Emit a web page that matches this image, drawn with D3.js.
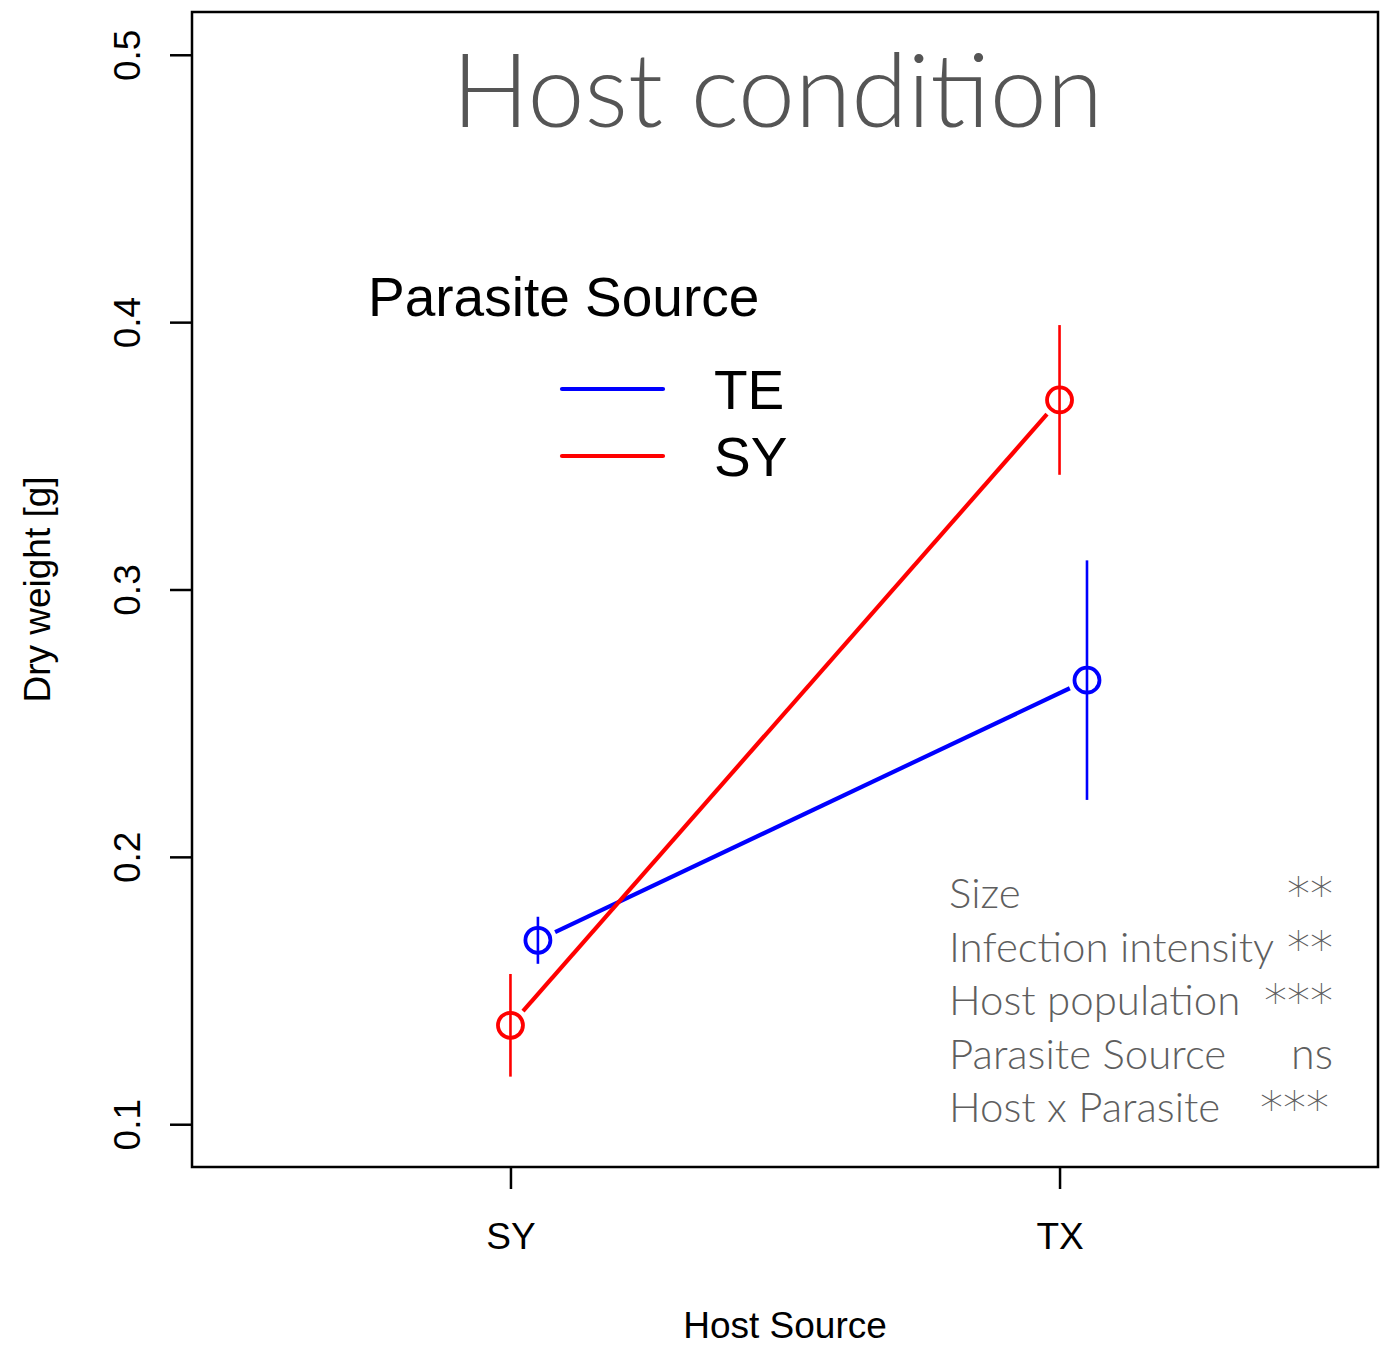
<!DOCTYPE html>
<html>
<head>
<meta charset="utf-8">
<script src="https://cdn.jsdelivr.net/npm/d3@7"></script>
<style>
  html, body { margin: 0; padding: 0; background: #fff; }
  svg { display: block; }
</style>
</head>
<body>
<svg id="chart" width="1380" height="1352"></svg>
<script>
// Host source categories on the x axis
const hostSources = ["SY", "TX"];
// Parasite source groups (legend order)
const parasiteSources = ["TE", "SY"];
const seriesColors = ["#0000FF", "#FF0000"];
// Mean dry weight [g] per host source, one array per parasite source
const meanTE = [0.1688, 0.2661];
const meanSY = [0.1370, 0.3709];
// Standard errors
const seTE = [0.0088, 0.0448];
const seSY = [0.0192, 0.0280];
// Y axis ticks
const yTicks = [0.1, 0.2, 0.3, 0.4, 0.5];
// Model terms and their significance
const terms = ["Size", "Infection intensity", "Host population", "Parasite Source", "Host x Parasite"];
const signif = ["**", "**", "***", "ns", "***"];

const svg = d3.select("#chart");
const plot = { left: 192, right: 1378, top: 12, bottom: 1167 };

// R-style 4% axis extension around the nominal limits
const xlim = [0.5, 2.5], ylim = [0.1, 0.5];
const ext = (l) => { const d = (l[1] - l[0]) * 0.04; return [l[0] - d, l[1] + d]; };
const x = d3.scaleLinear().domain(ext(xlim)).range([plot.left, plot.right]);
const y = d3.scaleLinear().domain(ext(ylim)).range([plot.bottom, plot.top]);

const dodge = [0.05, 0]; // horizontal offset per parasite source
const series = [
  { name: parasiteSources[0], color: seriesColors[0], mean: meanTE, se: seTE, dx: dodge[0] },
  { name: parasiteSources[1], color: seriesColors[1], mean: meanSY, se: seSY, dx: dodge[1] }
];

const fontSans = "'Liberation Sans', Arial, sans-serif";
const fontLight = "Lato, 'Open Sans', sans-serif";

// Y axis
const yAxis = svg.append("g").attr("transform", `translate(${plot.left},0)`)
  .call(d3.axisLeft(y).tickValues(yTicks).tickSize(22).tickPadding(0).tickFormat(d3.format(".1f")));
yAxis.select(".domain").remove();
yAxis.selectAll(".tick line").attr("stroke", "#000").attr("stroke-width", 2.5);
yAxis.selectAll(".tick text")
  .attr("transform", "rotate(-90)")
  .attr("x", 0).attr("y", -65)
  .attr("text-anchor", "middle")
  .attr("dy", "0.36em")
  .style("font-family", fontSans).style("font-size", "37px").attr("fill", "#000");

// X axis
const xAxis = svg.append("g").attr("transform", `translate(0,${plot.bottom})`)
  .call(d3.axisBottom(x).tickValues([1, 2]).tickSize(22).tickPadding(0)
    .tickFormat((d) => hostSources[d - 1]));
xAxis.select(".domain").remove();
xAxis.selectAll(".tick line").attr("stroke", "#000").attr("stroke-width", 2.5);
xAxis.selectAll(".tick text")
  .attr("y", 69).attr("dy", "0.36em")
  .style("font-family", fontSans).style("font-size", "37px").attr("fill", "#000");

// Axis titles
svg.append("text")
  .attr("transform", `translate(50,${(plot.top + plot.bottom) / 2}) rotate(-90)`)
  .attr("text-anchor", "middle")
  .style("font-family", fontSans).style("font-size", "37px")
  .text("Dry weight [g]");
svg.append("text")
  .attr("x", (plot.left + plot.right) / 2).attr("y", 1338)
  .attr("text-anchor", "middle")
  .style("font-family", fontSans).style("font-size", "37px")
  .text("Host Source");

// Series: connecting lines with gaps at the points, error bars, open circles
const gap = 19, r = 12.5;
const g = svg.append("g");
series.forEach((s) => {
  const pts = s.mean.map((m, i) => ({ px: x(i + 1 + s.dx), py: y(m), m, se: s.se[i] }));
  for (let i = 0; i < pts.length - 1; i++) {
    const a = pts[i], b = pts[i + 1];
    const dx = b.px - a.px, dy = b.py - a.py, len = Math.hypot(dx, dy);
    const ux = dx / len, uy = dy / len;
    g.append("line")
      .attr("x1", a.px + ux * gap).attr("y1", a.py + uy * gap)
      .attr("x2", b.px - ux * gap).attr("y2", b.py - uy * gap)
      .attr("stroke", s.color).attr("stroke-width", 4.2);
  }
  pts.forEach((p) => {
    g.append("line")
      .attr("x1", p.px).attr("x2", p.px)
      .attr("y1", y(p.m - p.se)).attr("y2", y(p.m + p.se))
      .attr("stroke", s.color).attr("stroke-width", 2.6);
    g.append("circle")
      .attr("cx", p.px).attr("cy", p.py).attr("r", r)
      .attr("fill", "none").attr("stroke", s.color).attr("stroke-width", 3.8);
  });
});

// Plot frame
svg.append("rect")
  .attr("x", plot.left).attr("y", plot.top)
  .attr("width", plot.right - plot.left).attr("height", plot.bottom - plot.top)
  .attr("fill", "none").attr("stroke", "#000").attr("stroke-width", 2.5);

// Title
const title = svg.append("text")
  .attr("x", 452).attr("y", 127)
  .style("font-family", fontLight).style("font-weight", 300)
  .style("font-size", "108px").attr("fill", "#555555")
  .text("Host condition");
const tw = title.node().getComputedTextLength();
title.style("font-size", (108 * 651 / tw) + "px");

// Legend
const legend = svg.append("g");
legend.append("text")
  .attr("x", 368).attr("y", 316)
  .style("font-family", fontSans).style("font-size", "55px")
  .text("Parasite Source");
series.forEach((s, i) => {
  const ly = 389 + i * 67;
  legend.append("line")
    .attr("x1", 562).attr("x2", 663).attr("y1", ly).attr("y2", ly)
    .attr("stroke", s.color).attr("stroke-width", 4.2).attr("stroke-linecap", "round");
  legend.append("text")
    .attr("x", 714).attr("y", ly).attr("dy", "0.36em")
    .style("font-family", fontSans).style("font-size", "55px")
    .text(s.name);
});

// Significance table
const stats = svg.append("g").style("font-family", fontLight).style("font-weight", 300).attr("fill", "#5e5e5e");
terms.forEach((t, i) => {
  const by = 908 + i * 53.5;
  stats.append("text").attr("x", 949).attr("y", by).style("font-size", "42px").text(t);
  const isStars = signif[i] !== "ns";
  stats.append("text")
    .attr("x", i === 4 ? 1329 : 1333)
    .attr("y", isStars ? by + 2 : by)
    .attr("text-anchor", "end")
    .style("font-family", isStars ? "'DejaVu Sans', sans-serif" : null)
    .style("font-weight", isStars ? 200 : null)
    .style("font-size", isStars ? "46px" : "43px")
    .text(signif[i]);
});
</script>
</body>
</html>
